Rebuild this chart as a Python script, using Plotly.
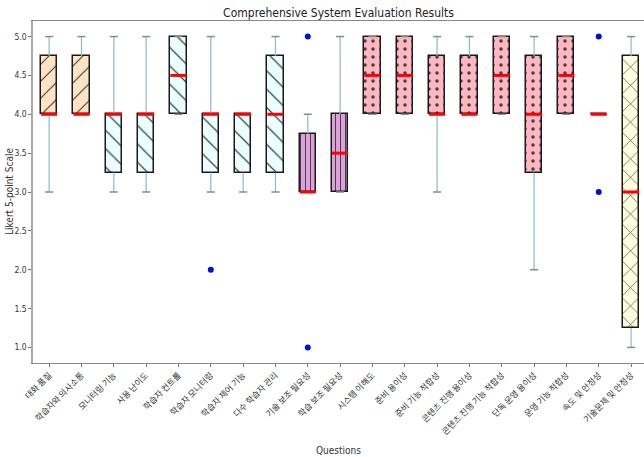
import plotly.graph_objects as go

# Survey items (x axis categories)
questions = [
    "대화 품질", "학습자와 의사소통", "모니터링 기능", "사용 난이도", "학습자 컨트롤",
    "학습자 모니터링", "학습자 제어 기능", "다수 학습자 관리", "기술 보조 필요성",
    "학습 보조 필요성", "시스템 이해도", "준비 용이성", "준비 기능 적합성",
    "콘텐츠 진행 용이성", "콘텐츠 진행 기능 적합성", "단독 운영 용이성",
    "운영 기능 적합성", "속도 및 안정성", "기술문제 및 안정성",
]
positions = list(range(1, len(questions) + 1))

# Box statistics per item
lower_whisker = [3.0, 4.0, 3.0, 3.0, 4.0, 3.0, 3.0, 3.0, 3.0, 3.0, 4.0, 4.0, 3.0, 4.0, 4.0, 2.0, 4.0, 4.0, 1.0]
q1 =            [4.0, 4.0, 3.25, 3.25, 4.0, 3.25, 3.25, 3.25, 3.0, 3.0, 4.0, 4.0, 4.0, 4.0, 4.0, 3.25, 4.0, 4.0, 1.25]
median =        [4.0, 4.0, 4.0, 4.0, 4.5, 4.0, 4.0, 4.0, 3.0, 3.5, 4.5, 4.5, 4.0, 4.0, 4.5, 4.0, 4.5, 4.0, 3.0]
q3 =            [4.75, 4.75, 4.0, 4.0, 5.0, 4.0, 4.0, 4.75, 3.75, 4.0, 5.0, 5.0, 4.75, 4.75, 5.0, 4.75, 5.0, 4.0, 4.75]
upper_whisker = [5.0, 5.0, 5.0, 5.0, 5.0, 5.0, 4.0, 5.0, 4.0, 5.0, 5.0, 5.0, 5.0, 5.0, 5.0, 5.0, 5.0, 4.0, 5.0]

# Outlying responses
outlier_pos = [6, 9, 9, 18, 18]
outlier_val = [2.0, 5.0, 1.0, 5.0, 3.0]

# Category group styling
fill_colors = (["#FFE4C4"] * 2 + ["#EAFFFF"] * 6 + ["#DDA0DD"] * 2 +
               ["#FFB6C1"] * 8 + ["#FFFFE0"])
hatches = ["/"] * 2 + ["\\"] * 6 + ["|"] * 2 + ["."] * 8 + ["x"]
hatch_sizes = [12] * 2 + [13] * 6 + [5] * 2 + [8] * 8 + [13]
hatch_solid = [0.1] * 2 + [0.1] * 6 + [0.2] * 2 + [0.16] * 8 + [0.1]

BOX_W = 0.5
CAP_W = 0.25
FONT = "Liberation Sans Narrow, DejaVu Sans Condensed, Noto Sans CJK KR, sans-serif"
KFONT = "Noto Sans CJK KR, sans-serif"


def segments(xs0, xs1, ys0, ys1):
    X, Y = [], []
    for a, b, c, d in zip(xs0, xs1, ys0, ys1):
        X += [a, b, None]
        Y += [c, d, None]
    return X, Y


fig = go.Figure()

# Whiskers
wx, wy = segments(positions + positions, positions + positions,
                  q1 + q3, lower_whisker + upper_whisker)
fig.add_trace(go.Scatter(x=wx, y=wy, mode="lines",
                         line=dict(color="#8DB6D3", width=1.2),
                         hoverinfo="skip", showlegend=False))

# Boxes (interquartile range)
fig.add_trace(go.Bar(
    x=positions, base=q1, y=[b - a for a, b in zip(q1, q3)], width=BOX_W,
    marker=dict(
        color=fill_colors,
        line=dict(color="#1a1a1a", width=1.5),
        pattern=dict(shape=hatches, bgcolor=fill_colors, fgcolor="#222222",
                     fgopacity=1, size=hatch_sizes, solidity=hatch_solid),
    ),
    showlegend=False,
))

# Caps
cx0 = [p - CAP_W / 2 for p in positions] * 2
cx1 = [p + CAP_W / 2 for p in positions] * 2
cx, cy = segments(cx0, cx1, lower_whisker + upper_whisker, lower_whisker + upper_whisker)
fig.add_trace(go.Scatter(x=cx, y=cy, mode="lines",
                         line=dict(color="#8a8a8a", width=1.5),
                         hoverinfo="skip", showlegend=False))

# Medians
mx, my = segments([p - BOX_W / 2 for p in positions], [p + BOX_W / 2 for p in positions],
                  median, median)
fig.add_trace(go.Scatter(x=mx, y=my, mode="lines",
                         line=dict(color="#FF0000", width=3),
                         hoverinfo="skip", showlegend=False))

# Outliers
fig.add_trace(go.Scatter(x=outlier_pos, y=outlier_val, mode="markers",
                         marker=dict(color="#0010D0", size=6),
                         showlegend=False))

fig.update_layout(
    width=644, height=457,
    margin=dict(l=33, r=0, t=21, b=94),
    plot_bgcolor="white", paper_bgcolor="white",
    bargap=0,
    title=dict(text="Comprehensive System Evaluation Results",
               x=0.5, xref="paper", xanchor="center",
               y=1 - 13 / 457, yref="container", yanchor="middle",
               font=dict(family=FONT, size=12, color="#222")),
    font=dict(family=FONT, size=9, color="#333"),
    annotations=[
        dict(text="Questions", xref="paper", yref="paper", x=0.5, y=-87 / 342,
             xanchor="center", yanchor="middle", showarrow=False,
             font=dict(family=FONT, size=10, color="#333")),
        dict(text="Likert 5-point Scale", xref="paper", yref="paper",
             x=-24 / 611, y=0.5, textangle=-90, xanchor="center", yanchor="middle",
             showarrow=False, font=dict(family=FONT, size=10, color="#333")),
    ],
)

fig.update_xaxes(
    range=[0.5, 19.4], tickvals=positions, ticktext=questions, tickangle=-45,
    ticks="outside", ticklen=3, tickcolor="#777", showline=True, linecolor="#888",
    linewidth=1.2, mirror=True, showgrid=False, zeroline=False,
    tickfont=dict(family=KFONT, size=8.5, color="#333"),
)
y_ticks = [1.0, 1.5, 2.0, 2.5, 3.0, 3.5, 4.0, 4.5, 5.0]
fig.update_yaxes(
    range=[0.8, 5.2], tickvals=y_ticks, ticktext=[f"{v:.1f}" for v in y_ticks],
    ticks="outside", ticklen=3, tickcolor="#777", showline=True, linecolor="#aaa",
    linewidth=1.5, showgrid=False, zeroline=False,
    tickfont=dict(family=FONT, size=8.5, color="#333"),
)

fig.write_html("out.html")
